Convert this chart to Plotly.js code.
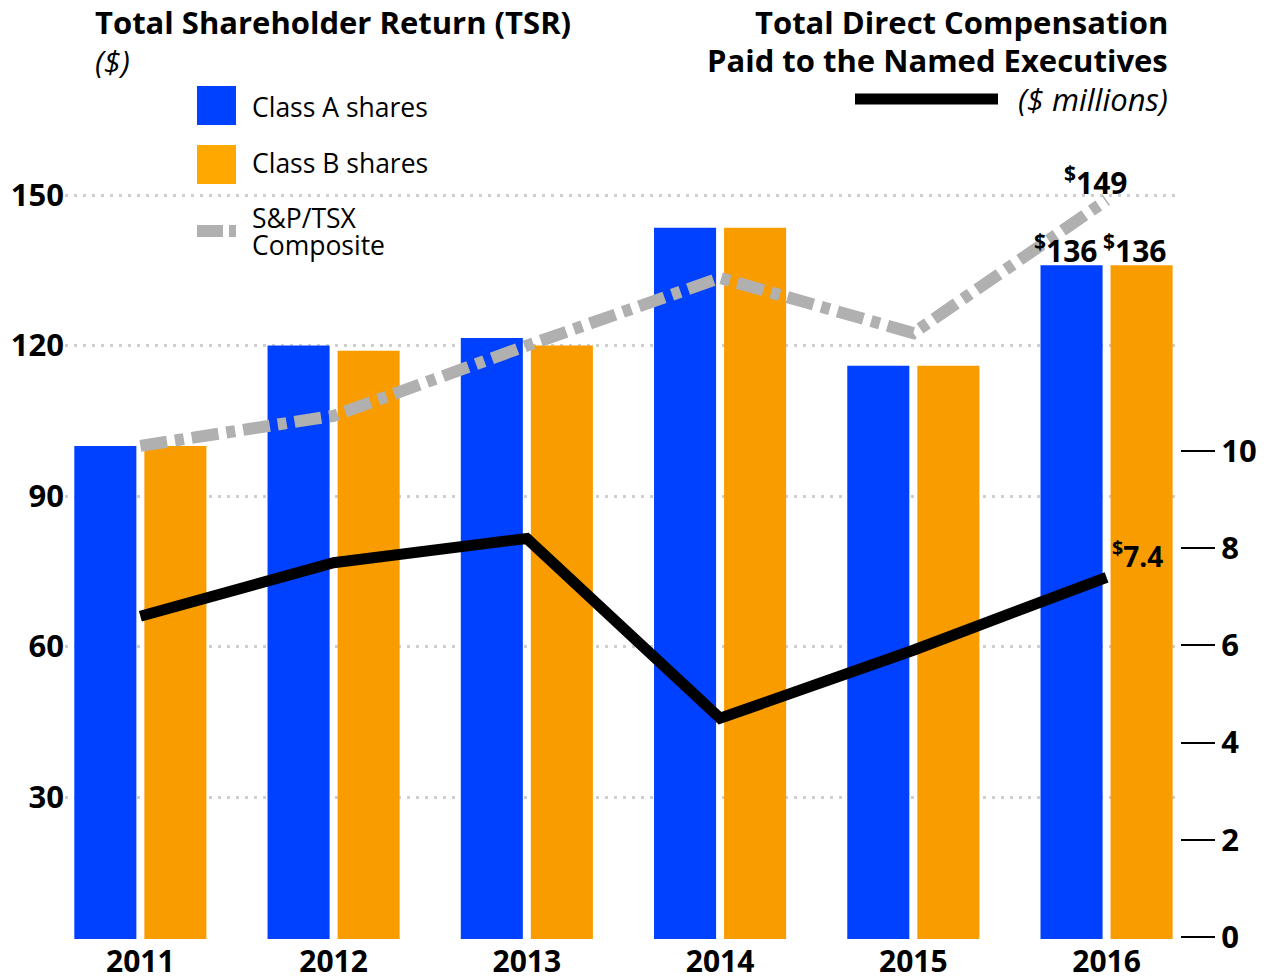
<!DOCTYPE html>
<html><head><meta charset="utf-8">
<script src="https://cdn.plot.ly/plotly-3.0.1.min.js"></script>
<style>html,body{margin:0;padding:0;background:#fff}#chart{width:1266px;height:980px}</style>
</head><body><div id="chart"></div>
<script>
const years = ['2011','2012','2013','2014','2015','2016'];
const classA = [100,120,121.5,143.5,116,136];
const classB = [100,119,120,143.5,116,136];
const tsx = [100,106,120,133.5,122.5,149];
const comp = [6.6,7.7,8.2,4.5,5.9,7.4];
const leftTicks = [30,60,90,120,150];
const rightTicks = [0,2,4,6,8,10];

const BLUE='#0040FF', ORANGE='#F99C00', GRAY='#B0B0B0';
const FONT='Open Sans';
const W=1266,H=980, ML=65, MR=86, MT=150, MB=41;
const pw=W-ML-MR, ph=H-MT-MB;
const px = v => (v-ML)/pw;
const py = v => (H-MB-v)/ph;

const traces = [
  {type:'bar', name:'Class A shares', x:years, y:classA, marker:{color:BLUE}, yaxis:'y', hoverinfo:'y'},
  {type:'bar', name:'Class B shares', x:years, y:classB, marker:{color:ORANGE}, yaxis:'y', hoverinfo:'y'},
  {type:'scatter', mode:'lines', name:'S&P/TSX Composite', x:years, y:tsx, yaxis:'y',
   line:{color:GRAY, width:12, dash:'27px,8px,9px,8px'}},
  {type:'scatter', mode:'lines', name:'Total Direct Compensation', x:years, y:comp, yaxis:'y2',
   line:{color:'#000', width:11}}
];

const last = years.length-1;
const boff = 0.18;
const bold = {family:FONT, size:30, color:'#000', weight:700};
const tfont = {family:FONT, size:31, color:'#000', weight:700};
const ifont = {family:FONT, size:31, color:'#000', style:'italic'};
const lfont = {family:FONT, size:26.5, color:'#000'};
const annotations = [
  {xref:'paper', yref:'paper', x:px(93), y:py(22), xanchor:'left', yanchor:'middle', showarrow:false,
   text:'Total Shareholder Return (TSR)', font:tfont},
  {xref:'paper', yref:'paper', x:px(93), y:py(61), xanchor:'left', yanchor:'middle', showarrow:false,
   text:'($)', font:ifont},
  {xref:'paper', yref:'paper', x:px(1170), y:py(22), xanchor:'right', yanchor:'middle', showarrow:false,
   text:'Total Direct Compensation', font:tfont},
  {xref:'paper', yref:'paper', x:px(1170), y:py(60), xanchor:'right', yanchor:'middle', showarrow:false,
   text:'Paid to the Named Executives', font:tfont},
  {xref:'paper', yref:'paper', x:px(1170), y:py(99), xanchor:'right', yanchor:'middle', showarrow:false,
   text:'($ millions)', font:ifont},
  {xref:'paper', yref:'paper', x:px(250), y:py(107), xanchor:'left', yanchor:'middle', showarrow:false,
   text:'Class A shares', font:lfont},
  {xref:'paper', yref:'paper', x:px(250), y:py(163), xanchor:'left', yanchor:'middle', showarrow:false,
   text:'Class B shares', font:lfont},
  {xref:'paper', yref:'paper', x:px(250), y:py(218), xanchor:'left', yanchor:'middle', showarrow:false,
   text:'S&P/TSX', font:lfont},
  {xref:'paper', yref:'paper', x:px(250), y:py(245), xanchor:'left', yanchor:'middle', showarrow:false,
   text:'Composite', font:lfont},
  {xref:'x', yref:'y', x:last, y:tsx[last], yshift:-5, xshift:-11, xanchor:'center', yanchor:'bottom', showarrow:false,
   text:'<sup>$</sup>'+tsx[last], font:bold},
  {xref:'x', yref:'y', x:last-boff, y:classA[last], xanchor:'center', yanchor:'bottom', showarrow:false, yshift:-8, xshift:-6,
   text:'<sup>$</sup>'+classA[last], font:bold},
  {xref:'x', yref:'y', x:last+boff, y:classB[last], xanchor:'center', yanchor:'bottom', showarrow:false, yshift:-8, xshift:-7,
   text:'<sup>$</sup>'+classB[last], font:bold},
  {xref:'x', yref:'y2', x:last+boff, y:comp[last], xanchor:'center', yanchor:'bottom', showarrow:false, yshift:0, xshift:-4,
   text:'<sup>$</sup>'+comp[last], font:{family:FONT, size:28, color:'#000', weight:700}}
];

const shapes = [
  {type:'rect', xref:'paper', yref:'paper', x0:px(197), x1:px(236), y0:py(125), y1:py(86), fillcolor:BLUE, line:{width:0}},
  {type:'rect', xref:'paper', yref:'paper', x0:px(197), x1:px(236), y0:py(184), y1:py(145), fillcolor:'#FFA800', line:{width:0}},
  {type:'line', xref:'paper', yref:'paper', x0:px(197), x1:px(236), y0:py(231), y1:py(231), line:{color:GRAY, width:12, dash:'26px,6px,8px,7px'}},
  {type:'line', xref:'paper', yref:'paper', x0:px(855), x1:px(998), y0:py(99), y1:py(99), line:{color:'#000', width:11}}
];

const layout = {
  width:W, height:H, margin:{l:ML, r:MR, t:MT, b:MB},
  paper_bgcolor:'#fff', plot_bgcolor:'#fff',
  showlegend:false, barmode:'group', bargap:0.275, bargroupgap:0.114,
  font:{family:FONT, color:'#000'},
  xaxis:{type:'category', range:[-0.39,5.38], showgrid:false, showline:false, zeroline:false, ticks:'',
    ticklabelstandoff:2, tickfont:{family:FONT, size:30, color:'#000', weight:700}, fixedrange:true},
  yaxis:{range:[1.7,159], tickvals:leftTicks, ticktext:leftTicks.map(String), showgrid:true, gridcolor:'#cfcfcf', gridwidth:3,
    griddash:'3px,6px', zeroline:false, showline:false, ticks:'',
    tickfont:{family:FONT, size:31, color:'#000', weight:700}},
  yaxis2:{overlaying:'y', side:'right', range:[-0.04,16.19], tickvals:rightTicks, ticktext:rightTicks.map(String),
    showgrid:false, zeroline:false, showline:false, ticks:'outside', ticklen:34, tickwidth:2, tickcolor:'#000',
    tickfont:{family:FONT, size:31, color:'#000', weight:700}},
  annotations:annotations, shapes:shapes
};

Plotly.newPlot('chart', traces, layout, {displayModeBar:false, staticPlot:true});
</script>
</body></html>
